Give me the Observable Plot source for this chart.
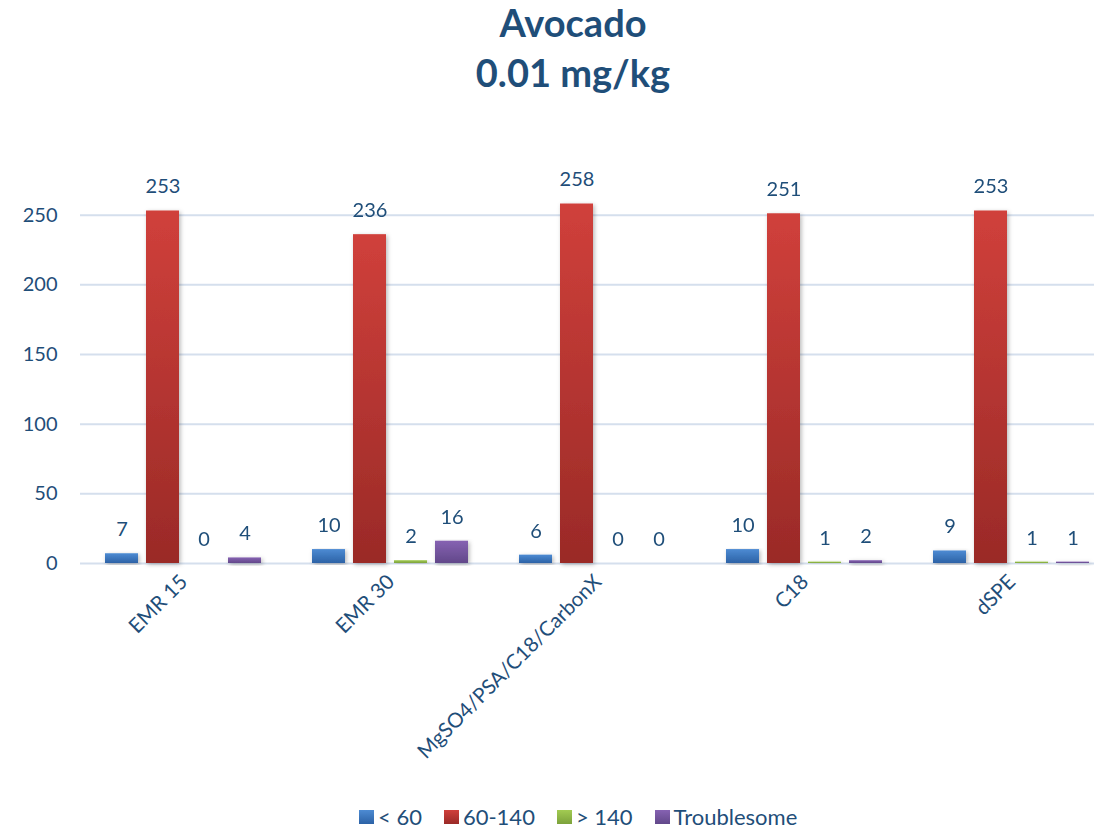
<!DOCTYPE html>
<html>
<head>
<meta charset="utf-8">
<script src="https://cdn.jsdelivr.net/npm/d3@7"></script>
<script src="https://cdn.jsdelivr.net/npm/@observablehq/plot@0.6"></script>
<style>
  html, body { margin: 0; padding: 0; background: #fff; }
  body { width: 1094px; height: 830px; overflow: hidden; font-family: Lato, "Open Sans", sans-serif; color: #1f4e79; }
  .title { text-align: center; font-weight: bold; font-size: 38px; line-height: 50px; height: 106px; box-sizing: border-box; padding-left: 52px; padding-top: 0; position: relative; top: -3px; }
  .legend { display: flex; gap: 22px; margin-left: 359px; margin-top: 13px; font-size: 22px; align-items: center; }
  .legend span.item { display: flex; align-items: center; gap: 4px; }
  .legend i { display: inline-block; width: 15px; height: 14px; }
</style>
</head>
<body>
<div class="title"><div>Avocado</div><div>0.01 mg/kg</div></div>
<div id="chart"></div>
<div class="legend" id="legend"></div>
<script>
// Cleanup methods compared for avocado at 0.01 mg/kg: number of analytes per recovery band
const categories = ["EMR 15", "EMR 30", "MgSO4/PSA/C18/CarbonX", "C18", "dSPE"];
const series = ["< 60", "60-140", "> 140", "Troublesome"];
const below60 = [7, 10, 6, 10, 9];
const within60to140 = [253, 236, 258, 251, 253];
const above140 = [0, 2, 0, 1, 1];
const troublesome = [4, 16, 0, 2, 1];
const yTicks = [0, 50, 100, 150, 200, 250];

// Gradient stops (top, bottom) for each series
const gradients = [
  ["#4d8bd3", "#2c62a6"],
  ["#d0403b", "#9a2a27"],
  ["#a2cb52", "#7ca23b"],
  ["#8662b2", "#62488a"]
];

const valuesBySeries = [below60, within60to140, above140, troublesome];
const rows = [];
categories.forEach((category, i) => {
  series.forEach((s, j) => rows.push({category, series: s, si: j, value: valuesBySeries[j][i]}));
});

const ink = "#1f4e79";

const chart = Plot.plot({
  width: 1094,
  height: 684,
  marginTop: 39,
  marginBottom: 227,
  marginLeft: 80,
  marginRight: -21,
  style: {fontFamily: "Lato, 'Open Sans', sans-serif", fontSize: "20px", color: ink, background: "transparent"},
  fx: {domain: categories, padding: 0, label: null},
  x: {domain: series, paddingInner: 0.19, paddingOuter: 0.56, axis: null},
  y: {domain: [0, 300], label: null},
  marks: [
    Plot.gridY(yTicks, {stroke: "#d5dfed", strokeOpacity: 1, strokeWidth: 2}),
    Plot.axisY(yTicks, {tickSize: 0, tickPadding: 23, fill: ink, fontSize: 20, label: null}),
    Plot.axisFx({anchor: "bottom", tickRotate: -45, tickSize: 0, tickPadding: 15, fill: ink, fontSize: 20.5, label: null}),
    ...series.map((s, j) =>
      Plot.barY(rows.filter(d => d.si === j), {fx: "category", x: "series", y: "value", fill: `url(#grad${j})`})
    ),
    Plot.text(rows, {fx: "category", x: "series", y: "value", text: d => String(d.value), dy: -24, fill: ink, fontSize: 20, lineAnchor: "middle"})
  ]
});

// Vertical gradients and a soft shadow for the bars
const svgNS = "http://www.w3.org/2000/svg";
const defs = document.createElementNS(svgNS, "defs");
defs.innerHTML = gradients.map((g, j) =>
  `<linearGradient id="grad${j}" x1="0" y1="0" x2="0" y2="1"><stop offset="0" stop-color="${g[0]}"/><stop offset="1" stop-color="${g[1]}"/></linearGradient>`
).join("") +
  `<filter id="barShadow" x="-20%" y="-5%" width="150%" height="115%"><feDropShadow dx="1.5" dy="1.5" stdDeviation="2" flood-color="#000" flood-opacity="0.28"/></filter>`;
chart.insertBefore(defs, chart.firstChild);
chart.querySelectorAll('g[aria-label="bar"]').forEach(g => g.setAttribute("filter", "url(#barShadow)"));
chart.style.display = "block";
document.getElementById("chart").appendChild(chart);

// Legend
const legend = document.getElementById("legend");
series.forEach((s, j) => {
  const item = document.createElement("span");
  item.className = "item";
  const sw = document.createElement("i");
  sw.style.background = `linear-gradient(${gradients[j][0]}, ${gradients[j][1]})`;
  item.appendChild(sw);
  item.appendChild(document.createTextNode(s));
  legend.appendChild(item);
});
</script>
</body>
</html>
